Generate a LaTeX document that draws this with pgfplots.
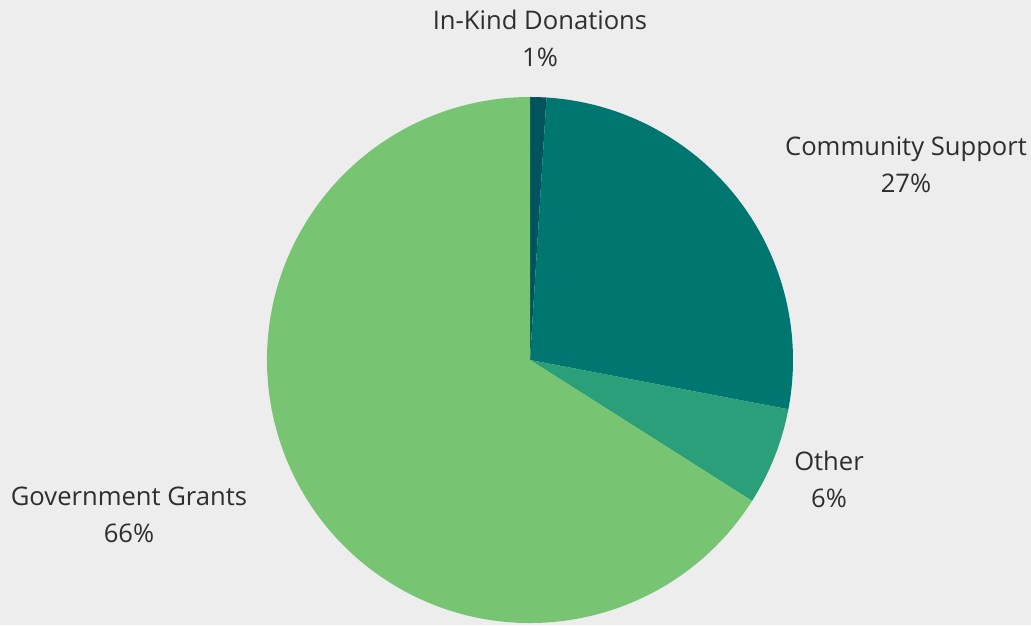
\documentclass[border=0pt]{standalone}
\usepackage{pgfplots}
\usepackage{pgfplotstable}
\pgfplotsset{compat=1.18}
\usepackage{fontspec}
\setmainfont{Open Sans}

\definecolor{bg}{HTML}{EDEDED}
\definecolor{txt}{HTML}{2E2E2E}
\definecolor{inkind}{HTML}{01535E}
\definecolor{community}{HTML}{007670}
\definecolor{other}{HTML}{2B9F79}
\definecolor{gov}{HTML}{77C472}

% shares in percent, clockwise from the top
\pgfplotstableread{
value
1
27
6
66
}\piedata
\pgfplotstablegetelem{0}{value}\of\piedata \let\va\pgfplotsretval
\pgfplotstablegetelem{1}{value}\of\piedata \let\vb\pgfplotsretval
\pgfplotstablegetelem{2}{value}\of\piedata \let\vc\pgfplotsretval
\pgfplotstablegetelem{3}{value}\of\piedata \let\vd\pgfplotsretval
\pgfmathsetmacro\aA{90}
\pgfmathsetmacro\aB{\aA-3.6*\va}
\pgfmathsetmacro\aC{\aB-3.6*\vb}
\pgfmathsetmacro\aD{\aC-3.6*\vc}
\pgfmathsetmacro\aE{\aD-3.6*\vd}

\begin{document}
\begin{tikzpicture}
\begin{axis}[
    width=1031bp, height=625bp, scale only axis,
    xmin=0, xmax=1031, ymin=0, ymax=625,
    hide axis, clip=false,
]
\fill[bg] (axis cs:0,0) rectangle (axis cs:1031,625);

\fill[inkind]    (axis cs:530,265) -- ++(\aA:263bp) arc[start angle=\aA, end angle=\aB, radius=263bp] -- cycle;
\fill[community] (axis cs:530,265) -- ++(\aB:263bp) arc[start angle=\aB, end angle=\aC, radius=263bp] -- cycle;
\fill[other]     (axis cs:530,265) -- ++(\aC:263bp) arc[start angle=\aC, end angle=\aD, radius=263bp] -- cycle;
\fill[gov]       (axis cs:530,265) -- ++(\aD:263bp) arc[start angle=\aD, end angle=\aE, radius=263bp] -- cycle;

\begin{scope}[every node/.style={align=center, text=txt, font=\fontsize{25.6bp}{37bp}\selectfont}]
\node at (axis cs:540,586.5) {In-Kind Donations\\1\%};
\node at (axis cs:906,460.5) {Community Support\\27\%};
\node at (axis cs:829,146) {Other\\6\%};
\node at (axis cs:129,110.5) {Government Grants\\66\%};
\end{scope}
\end{axis}
\pgfresetboundingbox
\path[use as bounding box] (current axis.south west) rectangle (current axis.north east);
\end{tikzpicture}
\end{document}
